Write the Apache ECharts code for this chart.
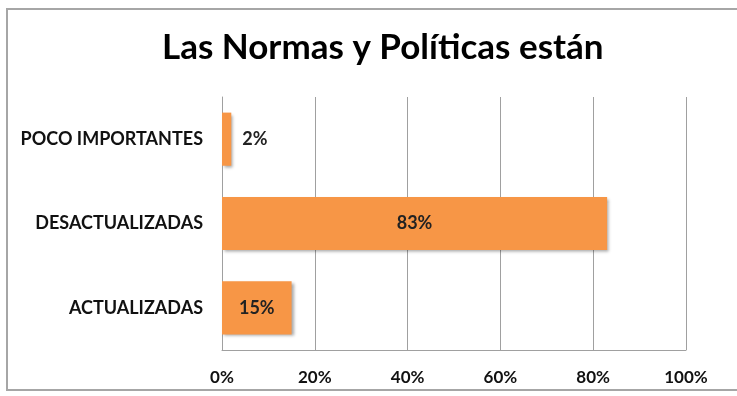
<!DOCTYPE html>
<html>
<head>
<meta charset="utf-8">
<script src="https://cdn.jsdelivr.net/npm/echarts@6/dist/echarts.min.js"></script>
<style>html,body{margin:0;padding:0;background:#fff;}#c{width:737px;height:396px;}</style>
</head>
<body>
<div id="c"></div>
<script>
const categories = ['ACTUALIZADAS', 'DESACTUALIZADAS', 'POCO IMPORTANTES'];
const values = [15, 83, 2];
const tickLabels = ['0%', '20%', '40%', '60%', '80%', '100%'];

const chart = echarts.init(document.getElementById('c'));
const font = 'Lato, "Open Sans", sans-serif';
chart.setOption({
  animation: false,
  backgroundColor: '#fff',
  title: {
    text: 'Las Normas y Políticas están',
    left: 157,
    top: 25,
    textStyle: { fontFamily: font, fontWeight: 'bold', fontSize: 35, color: '#000' }
  },
  graphic: [{
    type: 'rect',
    shape: { x: 7, y: 9, width: 760, height: 381 },
    style: { fill: 'none', stroke: '#a6a6a6', lineWidth: 2 },
    silent: true
  }],
  grid: { left: 222, right: 51, top: 97, bottom: 46 },
  xAxis: {
    type: 'value', min: 0, max: 100, interval: 20,
    axisLine: { show: true, lineStyle: { color: '#a0a0a0', width: 1 } },
    axisTick: { show: false },
    splitLine: { show: true, lineStyle: { color: '#a0a0a0', width: 1 } },
    axisLabel: {
      margin: 19,
      formatter: function (v) { return tickLabels[Math.round(v / 20)]; },
      fontFamily: font, fontWeight: 'bold', fontSize: 17, color: '#111'
    }
  },
  yAxis: {
    type: 'category', data: categories,
    axisLine: { show: true, lineStyle: { color: '#a0a0a0', width: 1 } },
    axisTick: { show: false },
    axisLabel: { margin: 19, fontFamily: font, fontWeight: 'bold', fontSize: 18, color: '#111' }
  },
  series: [{
    type: 'bar',
    data: values.map(function (v, i) {
      return {
        value: v,
        label: { position: v < 10 ? 'right' : 'inside', distance: 11 }
      };
    }),
    barCategoryGap: '37%',
    itemStyle: {
      color: '#F79646',
      shadowColor: 'rgba(0,0,0,0.35)', shadowBlur: 3, shadowOffsetX: 2, shadowOffsetY: 2
    },
    label: {
      show: true,
      formatter: '{c}%',
      fontFamily: font, fontWeight: 'bold', fontSize: 18, color: '#222'
    }
  }]
});
</script>
</body>
</html>
